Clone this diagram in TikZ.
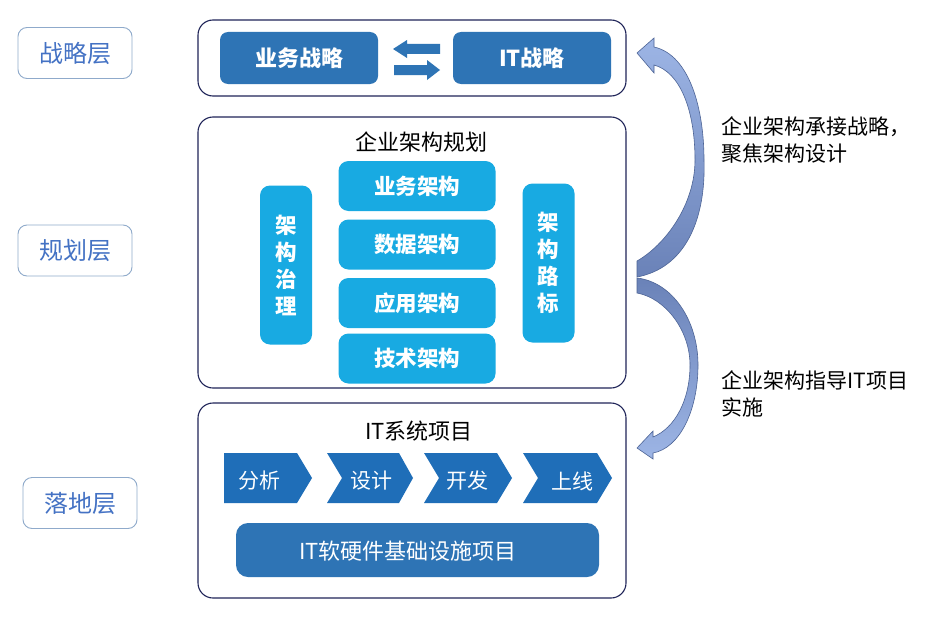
\documentclass[tikz,border=0pt]{standalone}
\usepackage{fontspec}
\setmainfont{Noto Sans CJK SC}
\usetikzlibrary{shapes.geometric}
\definecolor{navy}{HTML}{1F2458}
\definecolor{darkbox}{HTML}{2E74B5}
\definecolor{lightbox}{HTML}{18AAE2}
\definecolor{chev}{HTML}{1F6EB8}
\definecolor{lblborder}{HTML}{8FAACB}
\definecolor{lbltext}{HTML}{4472C4}
\definecolor{arrlight}{HTML}{9DB5E5}
\definecolor{arrdark}{HTML}{6A82B8}
\definecolor{arredge}{HTML}{4D6496}
\tikzset{
  frame/.style={draw=navy, line width=1.1pt, rounded corners=15pt, fill=white},
  layerlbl/.style={draw=lblborder, line width=0.9pt, rounded corners=9pt, minimum width=114pt, minimum height=51pt, text=lbltext, font=\fontsize{24}{26}\selectfont},
  topbox/.style={fill=darkbox, rounded corners=8pt, minimum width=158pt, minimum height=52pt, text=white, font=\bfseries\fontsize{22}{24}\selectfont},
  archbox/.style={fill=lightbox, rounded corners=10pt, minimum width=157pt, minimum height=50pt, text=white, font=\bfseries\fontsize{21.5}{24}\selectfont},
  sidebox/.style={fill=lightbox, rounded corners=10pt, minimum width=52pt, minimum height=159pt, text=white, align=center, font=\bfseries\fontsize{21.5}{27}\selectfont},
  chevtext/.style={text=white, font=\fontsize{21}{24}\selectfont},
  plain/.style={text=black, font=\fontsize{22}{24}\selectfont},
  note/.style={text=black, font=\fontsize{21}{26.5}\selectfont, align=left, anchor=west},
  flatarrow/.style={fill=darkbox},
  curvedarrow/.style={draw=arredge, line width=0.6pt}
}
\begin{document}
\begin{tikzpicture}[x=1pt,y=-1pt]
\useasboundingbox (0,0) rectangle (941,634);
\fill[white] (0,0) rectangle (941,634);

% layer labels
\node[layerlbl] (l1) at (75,53) {战略层};
\node[layerlbl] (l2) at (75,250.5) {规划层};
\node[layerlbl] (l3) at (80,503) {落地层};

% frames
\draw[frame] (198,20) rectangle (626,96);
\draw[frame] (198,117) rectangle (626,388);
\draw[frame] (198,403) rectangle (626,598);

% strategy layer
\node[topbox] (biz) at (299,58) {业务战略};
\node[topbox] (its) at (532,58) {IT战略};
\fill[flatarrow] (393,49) -- (407,40) -- (407,44) -- (440,44) -- (440,54) -- (407,54) -- (407,58) -- cycle;
\fill[flatarrow] (440,70) -- (427,60) -- (427,65) -- (394,65) -- (394,75) -- (427,75) -- (427,80) -- cycle;

% planning layer
\node[plain] (eap) at (421,142) {企业架构规划};
\node[archbox] (a1) at (417,186) {业务架构};
\node[archbox] (a2) at (417,244.5) {数据架构};
\node[archbox] (a3) at (417,303) {应用架构};
\node[archbox] (a4) at (417,358.5) {技术架构};
\node[sidebox] (gov) at (286,265) {架\\构\\治\\理};
\node[sidebox] (road) at (548.5,263) {架\\构\\路\\标};

% implementation layer
\node[plain] (itp) at (419,431) {IT系统项目};
\fill[chev] (224,453) -- (297,453) -- (312,478) -- (297,503) -- (224,503) -- cycle;
\fill[chev] (327,453) -- (399,453) -- (413,478) -- (399,503) -- (327,503) -- (342,478) -- cycle;
\fill[chev] (424,453) -- (497,453) -- (512,478) -- (497,503) -- (424,503) -- (439,478) -- cycle;
\fill[chev] (523,453) -- (597,453) -- (612,478) -- (597,503) -- (523,503) -- (538,478) -- cycle;
\node[chevtext] (c1) at (259,481) {分析};
\node[chevtext] (c2) at (371,481) {设计};
\node[chevtext] (c3) at (467,481) {开发};
\node[chevtext] (c4) at (572,481) {上线};
\fill[darkbox, rounded corners=12pt] (236,523) rectangle (599,577);
\node[chevtext, font=\fontsize{22}{24}\selectfont] (infra) at (408,551) {IT软硬件基础设施项目};

% curved arrows
\shade[curvedarrow, top color=arrlight, bottom color=arrdark]
  (637,53) -- (654,38) -- (654,47)
  .. controls (690,55) and (704,110) .. (704,160)
  .. controls (706,220) and (685,268) .. (637,277)
  -- (637,261)
  .. controls (665,245) and (695,205) .. (695,160)
  .. controls (695,110) and (680,72) .. (654,65)
  -- (654,73) -- cycle;
\shade[curvedarrow, top color=arrdark, bottom color=arrlight]
  (637,448) -- (653,431) -- (653,437)
  .. controls (675,428) and (690,400) .. (690,365)
  .. controls (690,330) and (665,298) .. (637,293)
  -- (637,278)
  .. controls (672,282) and (698,320) .. (698,365)
  .. controls (698,410) and (680,448) .. (653,453)
  -- (653,459) -- cycle;

% notes
\node[note] (n1) at (718,140) {企业架构承接战略，\\聚焦架构设计};
\node[note] (n2) at (718,394) {企业架构指导IT项目\\实施};
\end{tikzpicture}
\end{document}
